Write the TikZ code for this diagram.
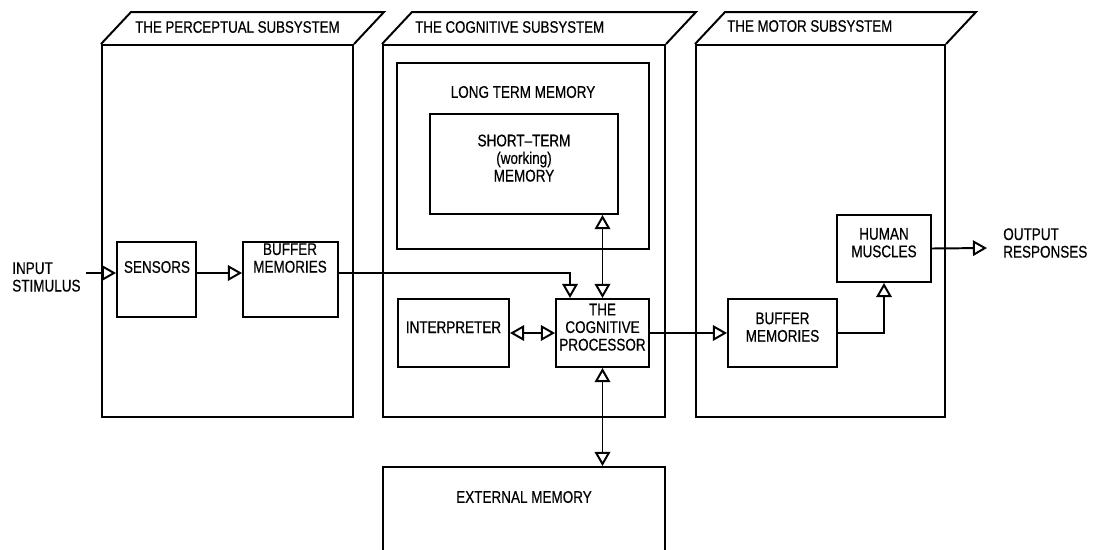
\documentclass[tikz,border=0pt]{standalone}
\usepackage{fontspec}
\setmainfont[FakeStretch=0.8, FakeBold=0.5]{Liberation Sans}
\usetikzlibrary{arrows.meta, positioning, fit, calc}

\begin{document}
\begin{tikzpicture}[
    x=0.025cm, y=-0.025cm,
    >={Triangle[open, length=10pt, width=11pt]},
    sub/.style={draw, line width=1.4pt, inner sep=0pt},
    box/.style={draw, line width=1.4pt, inner sep=0pt, align=center, font=\fontsize{12}{12.5}\selectfont},
    txt/.style={align=center, inner sep=0pt, font=\fontsize{12}{12.5}\selectfont},
    hdr/.style={anchor=west, inner sep=0pt, font=\fontsize{11.8}{12}\selectfont},
    conn/.style={->, line width=1.4pt},
    both/.style={<->, line width=1.4pt}
]
\clip (0,0) rectangle (1107,549);

% =========================================================================
% SUBSYSTEM BLOCKS (front face + slanted top)
% =========================================================================
\node[sub, fit={(102,45) (353,417)}] (perc) {};
\node[sub, fit={(383,45) (665,417)}] (cogn) {};
\node[sub, fit={(696,45) (945,417)}] (motor) {};

\foreach \blk in {perc, cogn, motor} {
    \draw[line width=1.4pt] (\blk.north west) -- ++(30,-32)
        -- ($(\blk.north east)+(30,-32)$) -- (\blk.north east);
}

\node[hdr] (perc-title)  at (135,27) {THE PERCEPTUAL SUBSYSTEM};
\node[hdr] (cogn-title)  at (415,27) {THE COGNITIVE SUBSYSTEM};
\node[hdr] (motor-title) at (727,26) {THE MOTOR SUBSYSTEM};


% =========================================================================
% PERCEPTUAL SUBSYSTEM
% =========================================================================
\node[box, fit={(117,242) (196,317)}] (sensors) {};
\node[txt] (sensors-label) at (157,267) {SENSORS};

\node[box, fit={(243,242) (338,317)}] (pbuf) {};
\node[txt] (pbuf-label) at (290,258) {BUFFER\\MEMORIES};

\node[txt, anchor=west, align=left] (input) at (12,277) {INPUT\\STIMULUS};
\coordinate (in-start) at (86,273);

\draw[conn] (in-start) -- (in-start -| sensors.west);
\draw[conn] (sensors.east |- in-start) -- (pbuf.west |- in-start);


% =========================================================================
% COGNITIVE SUBSYSTEM
% =========================================================================
\node[box, fit={(397,63) (649,249)}] (ltm) {};
\node[txt] (ltm-label) at (523,92) {LONG TERM MEMORY};

\node[box, fit={(430,114) (618,214)}] (stm) {SHORT--TERM\\(working)\\MEMORY};

\node[box, fit={(556,299) (649,367)}] (proc) {THE\\COGNITIVE\\PROCESSOR};
\node[box, fit={(398,299) (509,367)}] (interp) {INTERPRETER};

\draw[conn] (pbuf.east |- in-start) -| ($(proc.north west)+(15,0)$);
\draw[both] (proc.north) -- (proc.north |- stm.south);
\draw[both] (interp) -- (proc);


% =========================================================================
% EXTERNAL MEMORY
% =========================================================================
\node[box, fit={(383,467) (665,560)}] (ext) {};
\node[txt] (ext-label) at (524,497) {EXTERNAL MEMORY};

\draw[both] (proc.south) -- (proc.south |- ext.north);


% =========================================================================
% MOTOR SUBSYSTEM
% =========================================================================
\node[box, fit={(728,299) (837,367)}] (mbuf) {BUFFER\\MEMORIES};
\node[box, fit={(837,215) (931,282)}] (muscles) {HUMAN\\MUSCLES};

\node[txt, anchor=west, align=left] (output) at (1003,243) {OUTPUT\\RESPONSES};
\coordinate (out-end) at (987,248);

\draw[conn] (proc) -- (mbuf);
\draw[conn] (mbuf.east) -| (muscles.south);
\draw[conn] (muscles.east) -- (out-end);

\end{tikzpicture}
\end{document}
